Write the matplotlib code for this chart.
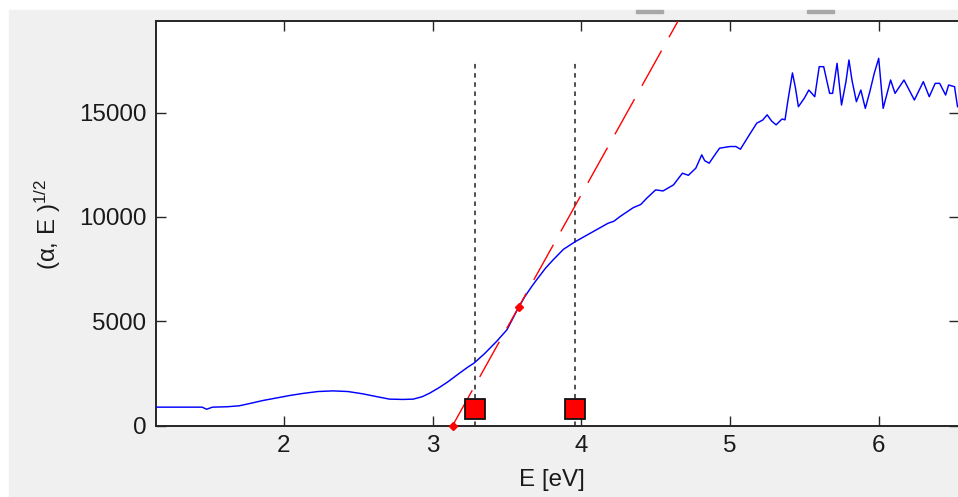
import numpy as np
import matplotlib
matplotlib.use('Agg')
import matplotlib.pyplot as plt
from matplotlib.patches import Rectangle

# measured spectrum (alpha*E)^(1/2) vs photon energy
energy = [1.14, 1.45, 1.48, 1.52, 1.62, 1.70, 1.78, 1.86, 1.95, 2.04, 2.13, 2.23,
          2.33, 2.43, 2.53, 2.62, 2.71, 2.80, 2.87, 2.93, 2.98, 3.04, 3.10, 3.16,
          3.23, 3.28, 3.35, 3.43, 3.50, 3.57, 3.62, 3.67, 3.70, 3.76, 3.81, 3.88,
          3.96, 4.03, 4.10, 4.18, 4.22, 4.26, 4.35, 4.40, 4.44, 4.50, 4.55, 4.62, 4.68, 4.72,
          4.77, 4.81, 4.83, 4.86, 4.90, 4.93, 5.00, 5.04, 5.07, 5.13, 5.18, 5.22,
          5.25, 5.28, 5.31, 5.35, 5.37, 5.39, 5.42, 5.44, 5.46, 5.50, 5.53, 5.57,
          5.60, 5.63, 5.67, 5.69, 5.72, 5.75, 5.78, 5.80, 5.82, 5.85, 5.88, 5.91,
          5.94, 5.97, 6.00, 6.03, 6.08, 6.11, 6.17, 6.24, 6.30, 6.34, 6.38, 6.41,
          6.45, 6.47, 6.51, 6.53, 6.56]
signal = [880, 880, 780, 880, 900, 945, 1070, 1200, 1320, 1440, 1540, 1630,
          1660, 1630, 1520, 1390, 1265, 1250, 1265, 1380, 1550, 1800, 2080, 2400,
          2765, 3000, 3450, 4030, 4590, 5550, 6180, 6700, 6990, 7550, 7940, 8450,
          8820, 9100, 9380, 9700, 9800, 10020, 10450, 10600, 10900, 11300, 11250, 11540, 12100, 12000,
          12340, 12980, 12700, 12580, 13000, 13300, 13380, 13380, 13250, 13940, 14500, 14650,
          14900, 14600, 14420, 14700, 14660, 15610, 16910, 16200, 15290, 15700, 16090, 15770,
          17210, 17210, 15930, 15930, 17370, 15370, 16500, 17530, 16570, 15530, 16090, 15210,
          16000, 16890, 17610, 15210, 16570, 15930, 16570, 15610, 16490, 15770, 16410, 16410,
          15850, 16330, 16250, 15290, 15200]

# linear fit of the absorption edge
fit_x0 = 3.135          # intercept with the energy axis
fit_slope = 12800.0     # per eV
fit_end = 4.75
fit_pts_x = [3.135, 3.58]   # red diamonds
# selected range bounds
bounds = [3.284, 3.957]
bound_marker_y = 780
bound_top = 17500

plt.rcParams['font.family'] = ['Liberation Sans', 'DejaVu Sans']
plt.rcParams['mathtext.fontset'] = 'custom'
plt.rcParams['mathtext.rm'] = 'Liberation Sans'
plt.rcParams['mathtext.it'] = 'Liberation Sans:italic'

fig = plt.figure(figsize=(9.58, 4.97), dpi=100, facecolor='white')
fig.patches.append(Rectangle((9 / 958, 0), 1, 1 - 10 / 497, transform=fig.transFigure,
                             color='#f0f0f0', zorder=-10))
for xs in (636, 807):
    fig.patches.append(Rectangle((xs / 958, 1 - 12.7 / 497), 27 / 958, 2.5 / 497,
                                 transform=fig.transFigure, color='#a8a8a8', zorder=-5))

ax = fig.add_axes([156 / 958, 1 - 425.5 / 497, 803 / 958, (425.5 - 21) / 497])
ax.set_facecolor('white')

ax.plot(energy, signal, color='#0000ff', lw=1.05, zorder=3)

for b in bounds:
    ax.plot([b, b], [0, bound_top], color='#202020', lw=1.1, dashes=(3, 3), zorder=2)

fx = np.array([fit_x0, fit_end])
ax.plot(fx, fit_slope * (fx - fit_x0), color='#ff0000', lw=1.0, dashes=(29, 11), zorder=4)
fpx = np.array(fit_pts_x)
ax.plot(fpx, fit_slope * (fpx - fit_x0), ls='none', marker='D', ms=4.5,
        color='#ff0000', zorder=5, clip_on=False)

ax.plot(bounds, [bound_marker_y] * len(bounds), ls='none', marker='s', ms=14,
        mfc='#ff0000', mec='#111111', mew=1.3, zorder=6)

ax.set_xlim(1.14, 6.54)
ax.set_ylim(0, 19400)
ax.set_xticks([2, 3, 4, 5, 6])
ax.set_yticks([0, 5000, 10000, 15000])
ax.tick_params(direction='in', length=7.2, width=1.0, top=True, right=True,
               labelsize=17.4, pad=7, colors='#262626', labelcolor='#1a1a1a')
for s in ax.spines.values():
    s.set_linewidth(1.4)
    s.set_color('#262626')

fig.text(552 / 958, 1 - 480 / 497, 'E [eV]', ha='center', va='center',
         fontsize=17.4, color='#1a1a1a')
fig.text(47.5 / 958, 1 - 224 / 497, '(α, E )$^{1/2}$', ha='center', va='center',
         rotation=90, fontsize=17.4, color='#1a1a1a')

fig.savefig('out.png', dpi=100, facecolor=fig.get_facecolor())
